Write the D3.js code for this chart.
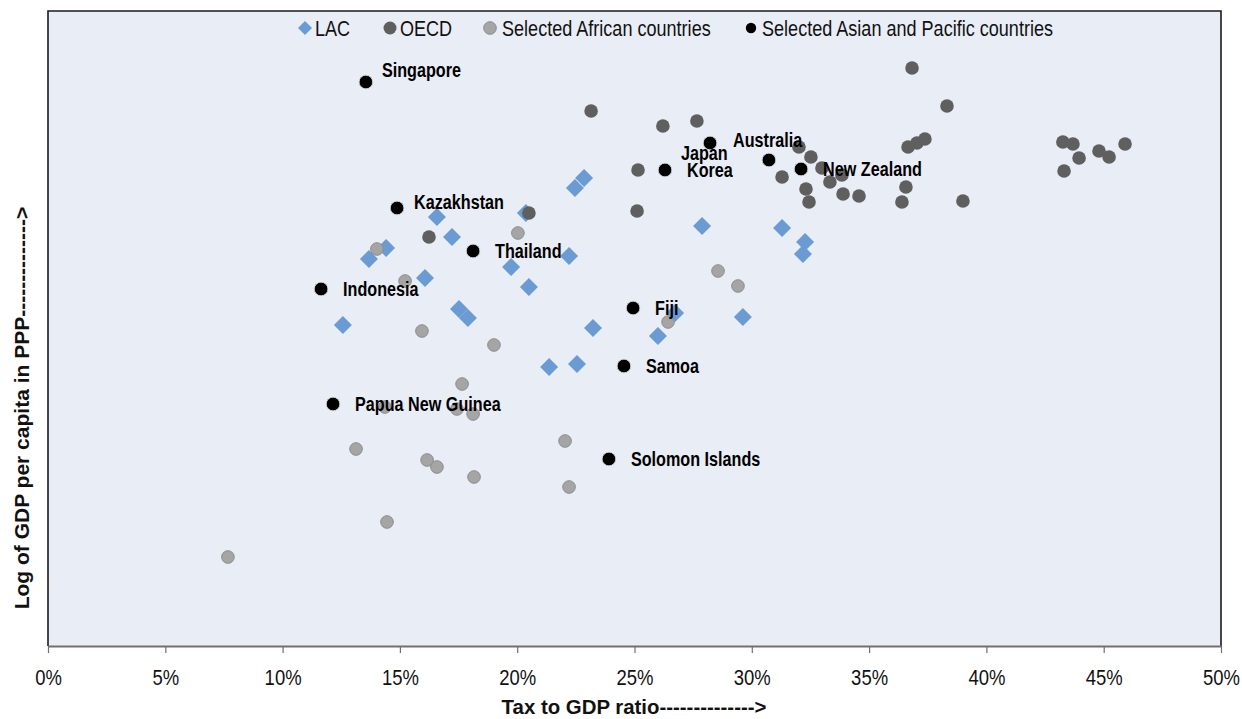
<!DOCTYPE html>
<html>
<head>
<meta charset="utf-8">
<script src="https://cdn.jsdelivr.net/npm/d3@7"></script>
<style>
  html, body { margin: 0; padding: 0; background: #ffffff; }
  svg { display: block; }
  text { font-family: "Liberation Sans", Arial, sans-serif; }
</style>
</head>
<body>
<svg id="chart" width="1242" height="719"></svg>
<script>
// ---------- DATA (x = tax-to-GDP ratio in %, y = log of GDP per capita in PPP) ----------
const xTicks = [0, 5, 10, 15, 20, 25, 30, 35, 40, 45, 50];
const seriesNames = ["LAC", "OECD", "Selected African countries", "Selected Asian and Pacific countries"];

const lacX = [22.85, 22.46, 16.58, 20.37, 17.22, 14.41, 13.68, 16.07, 19.74, 20.50, 22.21, 12.57, 17.52, 17.90, 23.23, 21.36, 22.55, 27.88, 31.29, 32.27, 32.18, 29.62, 26.73, 26.00];
const lacY = [9.68, 9.58, 9.29, 9.33, 9.09, 8.98, 8.87, 8.68, 8.79, 8.59, 8.90, 8.21, 8.37, 8.28, 8.18, 7.79, 7.82, 9.20, 9.18, 9.04, 8.92, 8.29, 8.33, 8.10];

const oecdX = [23.15, 26.21, 27.66, 25.15, 25.11, 20.50, 16.24, 31.29, 32.01, 32.52, 32.99, 33.33, 33.84, 32.31, 32.44, 33.89, 34.57, 36.83, 38.32, 36.66, 37.04, 37.38, 36.57, 36.40, 39.00, 43.26, 43.69, 43.95, 44.80, 45.23, 45.91, 43.31];
const oecdY = [10.35, 10.20, 10.25, 9.76, 9.35, 9.33, 9.09, 9.69, 9.99, 9.89, 9.78, 9.64, 9.71, 9.57, 9.44, 9.52, 9.50, 10.78, 10.40, 9.99, 10.03, 10.07, 9.59, 9.44, 9.45, 10.04, 10.02, 9.88, 9.95, 9.89, 10.02, 9.75];

const africaX = [14.02, 15.22, 20.03, 15.94, 19.01, 17.65, 28.56, 29.41, 26.43, 14.36, 17.43, 18.12, 13.13, 16.16, 16.58, 18.16, 22.04, 22.21, 14.45, 7.67];
const africaY = [8.97, 8.65, 9.13, 8.15, 8.01, 7.62, 8.75, 8.60, 8.24, 7.39, 7.37, 7.32, 6.97, 6.86, 6.79, 6.69, 7.05, 6.59, 6.24, 5.89];

const asiaNames = ["Singapore", "Australia", "Japan", "Korea", "New Zealand", "Kazakhstan", "Thailand", "Indonesia", "Fiji", "Samoa", "Solomon Islands", "Papua New Guinea"];
const asiaX = [13.55, 28.22, 30.73, 26.30, 32.10, 14.88, 18.12, 11.64, 24.94, 24.55, 23.91, 12.15];
const asiaY = [10.64, 10.03, 9.86, 9.76, 9.77, 9.38, 8.95, 8.57, 8.38, 7.80, 6.87, 7.42];

const xTitle = "Tax to GDP ratio-------------->";
const yTitle = "Log of GDP per capita in PPP-------------->";

// ---------- LAYOUT ----------
const plot = { left: 48, right: 1221, top: 11, bottom: 646 };
const colors = { lac: "#6b9bd3", oecd: "#5f5f5f", africa: "#a5a5a5", africaStroke: "#8c8c8c", asia: "#000000", bg: "#e9edf6" };
// label offsets (pixels) relative to the point; default is to the right
const labelOffset = { "Japan": [-88, -7], "Australia": [23, -3], "Singapore": [16, -12], "Kazakhstan": [17, -6] };
const narrow = 0.83;   // horizontal squeeze to mimic a narrow typeface

const svg = d3.select("#chart");
const x = d3.scaleLinear().domain([0, 50]).range([plot.left, plot.right]);
const y = d3.scaleLinear().domain([5, 11.35]).range([plot.bottom, plot.top]);

// plot background
svg.append("rect")
  .attr("x", plot.left).attr("y", plot.top)
  .attr("width", plot.right - plot.left).attr("height", plot.bottom - plot.top)
  .attr("fill", colors.bg);

// frame (top, left, right)
svg.append("path")
  .attr("d", `M${plot.left},${plot.bottom} V${plot.top} H${plot.right} V${plot.bottom}`)
  .attr("fill", "none").attr("stroke", "#1a1a1a").attr("stroke-width", 1.6);

// x axis
const xAxis = d3.axisBottom(x).tickValues(xTicks).tickFormat(d => d + "%").tickSize(7).tickSizeOuter(0);
const gx = svg.append("g").attr("transform", `translate(0,${plot.bottom})`).call(xAxis);
gx.select(".domain").attr("stroke", "#707070").attr("stroke-width", 2.2);
gx.selectAll(".tick line").attr("stroke", "#707070").attr("stroke-width", 1.2);
gx.selectAll(".tick text")
  .attr("font-size", 21.5).attr("fill", "#111")
  .attr("y", 39).attr("dy", 0)
  .attr("transform", "scale(0.86,1)")
  .style("font-family", '"Liberation Sans", Arial, sans-serif');

// axis titles
svg.append("text").attr("transform", "translate(634,714) scale(1.02,1)")
  .attr("text-anchor", "middle").attr("font-weight", "bold").attr("font-size", 20).attr("fill", "#111")
  .text(xTitle);
svg.append("text").attr("transform", "translate(29,408) rotate(-90) scale(1.0,1)")
  .attr("text-anchor", "middle").attr("font-weight", "bold").attr("font-size", 21).attr("fill", "#111")
  .text(yTitle);

// diamond path generator
const diamond = r => `M0,${-r} L${r},0 L0,${r} L${-r},0 Z`;

// LAC
const lac = lacX.map((v, i) => ({ x: v, y: lacY[i] }));
svg.append("g").selectAll("path").data(lac).join("path")
  .attr("d", diamond(9))
  .attr("transform", d => `translate(${x(d.x)},${y(d.y)})`)
  .attr("fill", colors.lac);

// OECD
const oecd = oecdX.map((v, i) => ({ x: v, y: oecdY[i] }));
svg.append("g").selectAll("circle").data(oecd).join("circle")
  .attr("cx", d => x(d.x)).attr("cy", d => y(d.y)).attr("r", 6.8)
  .attr("fill", colors.oecd);

// Africa
const africa = africaX.map((v, i) => ({ x: v, y: africaY[i] }));
svg.append("g").selectAll("circle").data(africa).join("circle")
  .attr("cx", d => x(d.x)).attr("cy", d => y(d.y)).attr("r", 6.3)
  .attr("fill", colors.africa).attr("stroke", colors.africaStroke).attr("stroke-width", 1);

// Asia & Pacific
const asia = asiaX.map((v, i) => ({ name: asiaNames[i], x: v, y: asiaY[i] }));
svg.append("g").selectAll("circle").data(asia).join("circle")
  .attr("cx", d => x(d.x)).attr("cy", d => y(d.y)).attr("r", 6.8)
  .attr("fill", colors.asia).attr("stroke", "#d8d8d8").attr("stroke-width", 0.8);

svg.append("g").selectAll("text").data(asia).join("text")
  .attr("transform", d => {
    const o = labelOffset[d.name] || [22, 0];
    return `translate(${x(d.x) + o[0]},${y(d.y) + o[1]}) scale(${narrow},1)`;
  })
  .attr("dy", "0.35em")
  .attr("font-size", 19.5).attr("font-weight", "bold").attr("fill", "#000")
  .text(d => d.name);

// legend
const legendX = [305, 390, 490, 751];
const legendTextX = [315, 400, 502, 762];
const lg = svg.append("g");
seriesNames.forEach((name, i) => {
  const cy = 28;
  if (i === 0) {
    lg.append("path").attr("d", diamond(7)).attr("transform", `translate(${legendX[i]},${cy})`).attr("fill", colors.lac);
  } else if (i === 1) {
    lg.append("circle").attr("cx", legendX[i]).attr("cy", cy).attr("r", 6.5).attr("fill", colors.oecd);
  } else if (i === 2) {
    lg.append("circle").attr("cx", legendX[i]).attr("cy", cy).attr("r", 6.3).attr("fill", colors.africa).attr("stroke", colors.africaStroke);
  } else {
    lg.append("circle").attr("cx", legendX[i]).attr("cy", cy).attr("r", 5.2).attr("fill", colors.asia);
  }
  lg.append("text").attr("transform", `translate(${legendTextX[i]},${cy}) scale(0.84,1)`).attr("dy", "0.36em")
    .attr("font-size", 21.5).attr("fill", "#111").text(name);
});
</script>
</body>
</html>
